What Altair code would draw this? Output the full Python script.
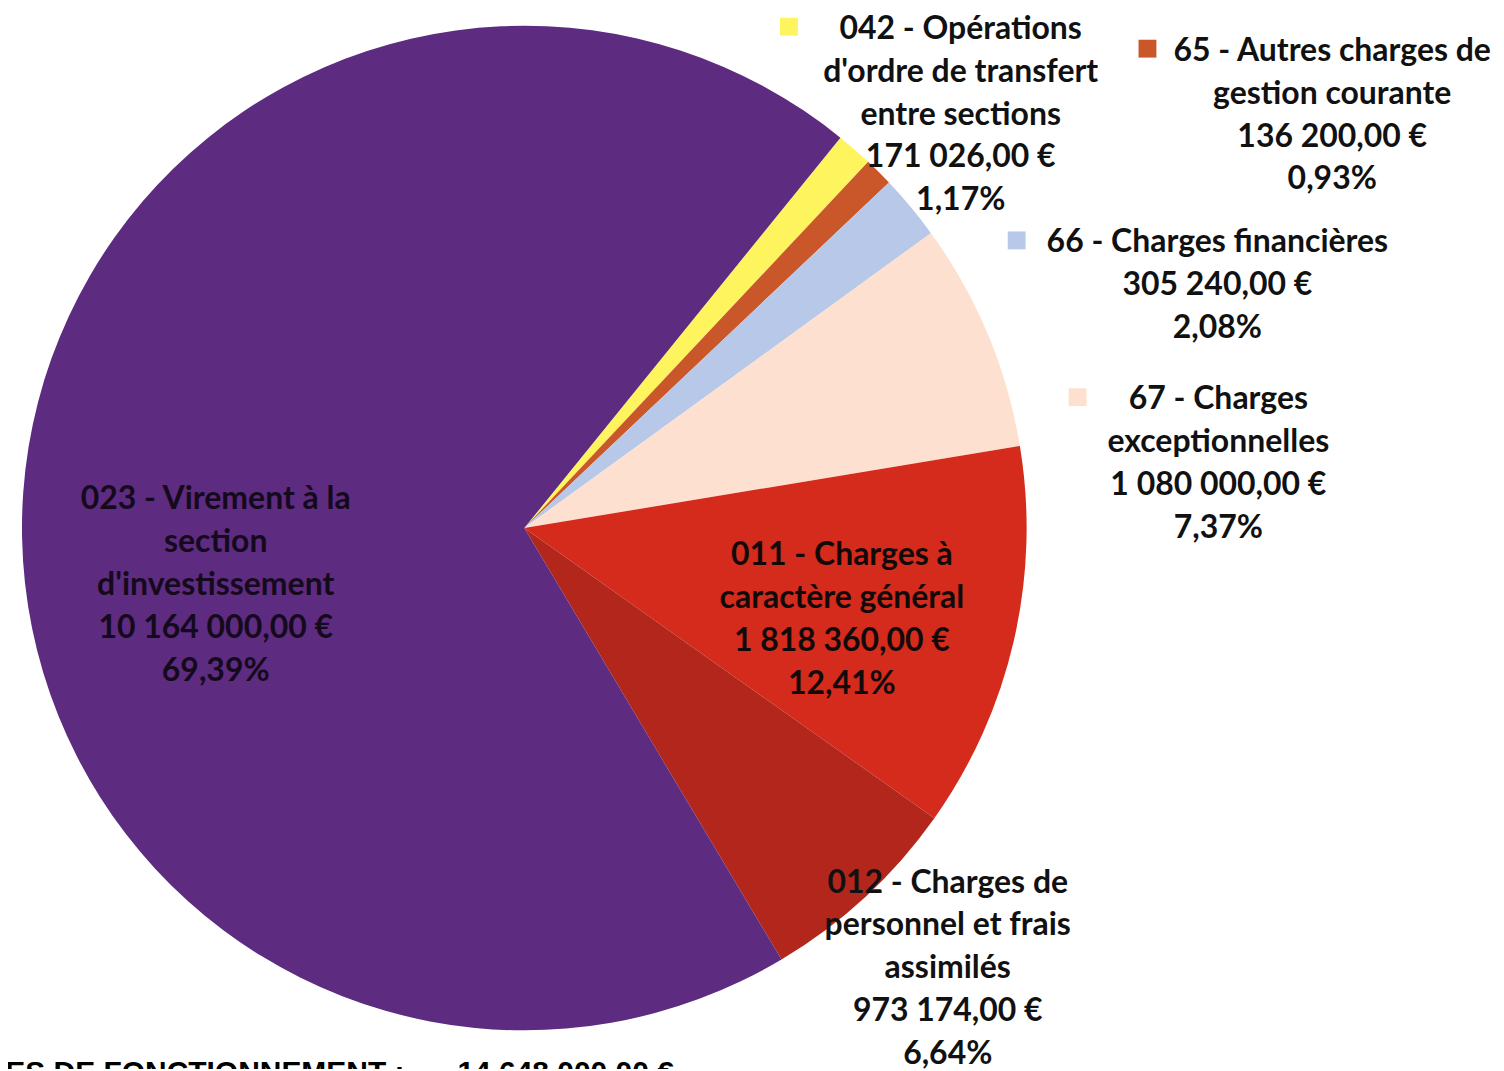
import altair as alt
import pandas as pd

# ---- data ----
codes = ["042", "65", "66", "67", "011", "012", "023"]
names = [
    "042 - Opérations\nd'ordre de transfert\nentre sections",
    "65 - Autres charges de\ngestion courante",
    "66 - Charges financières",
    "67 - Charges\nexceptionnelles",
    "011 - Charges à\ncaractère général",
    "012 - Charges de\npersonnel et frais\nassimilés",
    "023 - Virement à la\nsection\nd'investissement",
]
values = [171026, 136200, 305240, 1080000, 1818360, 973174, 10164000]
colors = ["#fdf45e", "#c9572a", "#b7c8e8", "#fde0cf", "#d42b1c", "#b3261c", "#5d2b80"]
total_title = "DÉPENSES DE FONCTIONNEMENT :"

total = sum(values)


def fmt_eur(v):
    s = f"{v:,.2f}".replace(",", " ").replace(".", ",")
    return s + " €"


def fmt_pct(v):
    return f"{v / total * 100:.2f}".replace(".", ",") + "%"


# ---- layout (pixel positions, page coords) ----
OX, OY = 8, 8
label_pos = {
    "042": (962, 38, "#111111"),
    "65": (1334, 60, "#111111"),
    "66": (1219, 252, "#111111"),
    "67": (1220, 409, "#111111"),
    "011": (843, 565, "#120a0a"),
    "012": (949, 893, "#111111"),
    "023": (216, 509, "#140a1c"),
}
square_pos = {
    "042": (790, 26),
    "65": (1149, 48),
    "66": (1018, 240),
    "67": (1079, 397),
}
CX, CY, R = 525, 528, 503
PI = 3.141592653589793
start = 39.0 * PI / 180

pie_df = pd.DataFrame({
    "code": codes,
    "value": values,
    "ord": list(range(len(codes))),
})

pie = alt.Chart(pie_df).mark_arc(radius=R).encode(
    theta=alt.Theta("value:Q", stack=True,
                    scale=alt.Scale(range=[start, start + 2 * PI])),
    order=alt.Order("ord:Q"),
    color=alt.Color("code:N", scale=alt.Scale(domain=codes, range=colors), legend=None),
    x=alt.value(CX - OX),
    y=alt.value(CY - OY),
)

lab_rows = []
for c, n, v in zip(codes, names, values):
    px, py, col = label_pos[c]
    lab_rows.append({
        "text": n + "\n" + fmt_eur(v) + "\n" + fmt_pct(v),
        "px": px - OX, "py": py - OY, "col": col,
    })
lab_df = pd.DataFrame(lab_rows)

labels = alt.Chart(lab_df).mark_text(
    font="Lato", fontWeight="bold", fontSize=32, lineBreak="\n", lineHeight=43,
    align="center", baseline="alphabetic",
).encode(
    x=alt.X("px:Q", scale=None),
    y=alt.Y("py:Q", scale=None),
    text="text:N",
    color=alt.Color("col:N", scale=None),
)

sq_rows = []
for c, col in zip(codes, colors):
    if c in square_pos:
        sx, sy = square_pos[c]
        sq_rows.append({"sx": sx - OX, "sy": sy - OY, "col": col})
sq_df = pd.DataFrame(sq_rows)
squares = alt.Chart(sq_df).mark_square(size=320, opacity=1, filled=True).encode(
    x=alt.X("sx:Q", scale=None),
    y=alt.Y("sy:Q", scale=None),
    color=alt.Color("col:N", scale=None),
)

bottom_df = pd.DataFrame({
    "t": [total_title, fmt_eur(total)],
    "bx": [405 - OX, 458 - OX],
})
bottom1 = alt.Chart(bottom_df.iloc[[0]]).mark_text(
    font="Liberation Sans", fontWeight="bold", fontSize=30, align="right", baseline="alphabetic",
    color="#000000",
).encode(x=alt.X("bx:Q", scale=None), y=alt.value(1083 - OY), text="t:N")
bottom2 = alt.Chart(bottom_df.iloc[[1]]).mark_text(
    font="Liberation Sans", fontWeight="bold", fontSize=30, align="left", baseline="alphabetic",
    color="#000000",
).encode(x=alt.X("bx:Q", scale=None), y=alt.value(1083 - OY), text="t:N")

chart = alt.layer(pie, squares, labels, bottom1, bottom2).properties(
    width=1490, height=1061, padding=0, background="#ffffff",
    autosize=alt.AutoSizeParams(type="none"),
).configure_view(stroke=None, strokeWidth=0)

chart.save("out.html", embed_options={"renderer": "svg", "actions": False})
